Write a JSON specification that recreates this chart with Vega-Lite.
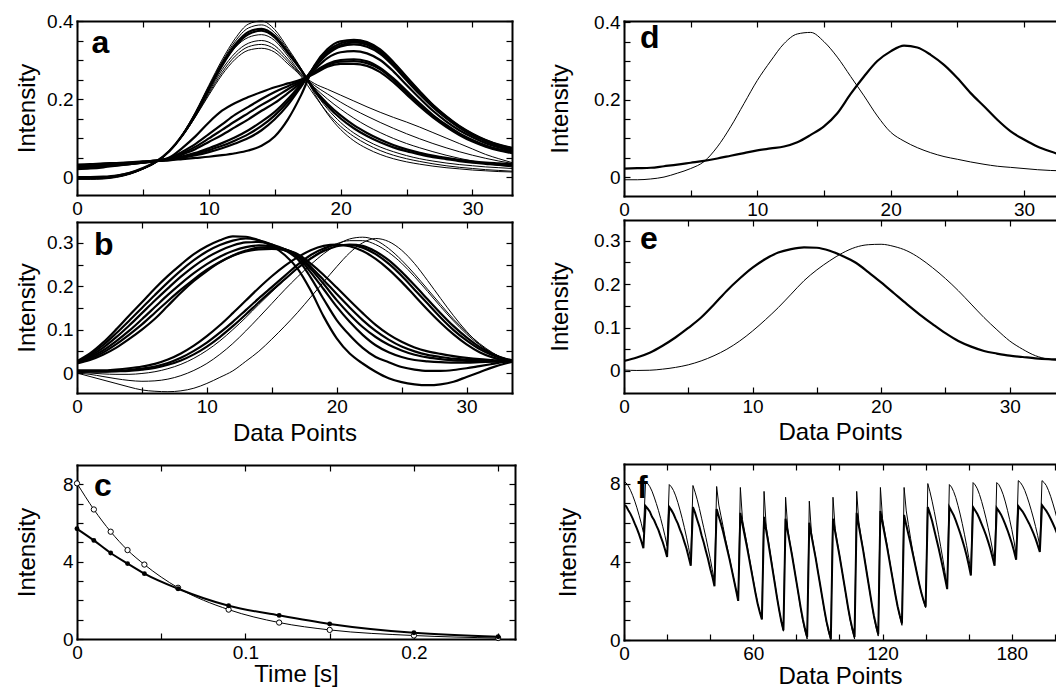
{
"$schema": "https://vega.github.io/schema/vega-lite/v6.json",
"autosize": {"type": "pad"},
"padding": {"left": 14, "top": 12, "right": 0, "bottom": 0},
"background": "white",
"config": {
  "view": {"stroke": null},
  "font": "Liberation Sans",
  "axis": {"domain": true, "domainColor": "black", "domainWidth": 2, "domainCap": "square", "grid": false, "ticks": true, "tickColor": "black", "tickSize": -6, "tickWidth": 1.2, "labelFont": "Liberation Sans", "labelFontSize": 19, "labelColor": "black", "labelPadding": 10, "labelFlush": false, "labelOverlap": false, "labelBound": false, "titleFont": "Liberation Sans", "titleFontSize": 24, "titleFontWeight": "normal", "titleColor": "black", "minExtent": 0, "maxExtent": 200},
  "text": {"font": "Liberation Sans", "fontSize": 32, "fontWeight": "bold", "color": "black", "align": "left", "baseline": "alphabetic"},
  "line": {"color": "black"}
},
"datasets": {
"a": [
{"x":0,"c1":-0.006,"c2":-0.004,"c3":-0.002,"c4":0,"c5":-0.005,"c6":-0.003,"c7":-0.004,"c8":-0.001,"g1":0.032,"g2":0.03,"g3":0.026,"g4":0.024,"g5":0.022,"g6":0.02,"g7":0.025,"g8":0.028},
{"x":1,"c1":-0.006,"c2":-0.004,"c3":-0.002,"c4":0,"c5":-0.005,"c6":-0.003,"c7":-0.004,"c8":-0.001,"g1":0.033,"g2":0.031,"g3":0.028,"g4":0.026,"g5":0.024,"g6":0.022,"g7":0.027,"g8":0.03},
{"x":2,"c1":-0.005,"c2":-0.003,"c3":-0.001,"c4":0.001,"c5":-0.004,"c6":-0.002,"c7":-0.003,"c8":0,"g1":0.035,"g2":0.033,"g3":0.03,"g4":0.028,"g5":0.027,"g6":0.025,"g7":0.029,"g8":0.032},
{"x":3,"c1":-0.001,"c2":0.001,"c3":0.003,"c4":0.004,"c5":0,"c6":0.002,"c7":0.001,"c8":0.003,"g1":0.036,"g2":0.035,"g3":0.032,"g4":0.031,"g5":0.03,"g6":0.029,"g7":0.032,"g8":0.034},
{"x":4,"c1":0.007,"c2":0.008,"c3":0.01,"c4":0.011,"c5":0.008,"c6":0.009,"c7":0.008,"c8":0.01,"g1":0.038,"g2":0.037,"g3":0.035,"g4":0.034,"g5":0.033,"g6":0.033,"g7":0.035,"g8":0.036},
{"x":5,"c1":0.02,"c2":0.021,"c3":0.022,"c4":0.023,"c5":0.021,"c6":0.021,"c7":0.021,"c8":0.022,"g1":0.04,"g2":0.039,"g3":0.038,"g4":0.037,"g5":0.037,"g6":0.037,"g7":0.038,"g8":0.039},
{"x":6,"c1":0.037,"c2":0.038,"c3":0.039,"c4":0.04,"c5":0.038,"c6":0.038,"c7":0.038,"c8":0.039,"g1":0.042,"g2":0.042,"g3":0.041,"g4":0.041,"g5":0.041,"g6":0.041,"g7":0.041,"g8":0.042},
{"x":7,"c1":0.065,"c2":0.066,"c3":0.066,"c4":0.067,"c5":0.066,"c6":0.066,"c7":0.065,"c8":0.066,"g1":0.05,"g2":0.048,"g3":0.046,"g4":0.045,"g5":0.044,"g6":0.043,"g7":0.045,"g8":0.047},
{"x":8,"c1":0.11,"c2":0.11,"c3":0.108,"c4":0.107,"c5":0.108,"c6":0.106,"c7":0.105,"c8":0.105,"g1":0.075,"g2":0.065,"g3":0.058,"g4":0.053,"g5":0.05,"g6":0.046,"g7":0.051,"g8":0.061},
{"x":9,"c1":0.168,"c2":0.166,"c3":0.163,"c4":0.16,"c5":0.162,"c6":0.158,"c7":0.156,"c8":0.155,"g1":0.105,"g2":0.085,"g3":0.072,"g4":0.062,"g5":0.056,"g6":0.049,"g7":0.059,"g8":0.078},
{"x":10,"c1":0.235,"c2":0.232,"c3":0.228,"c4":0.224,"c5":0.226,"c6":0.218,"c7":0.214,"c8":0.21,"g1":0.14,"g2":0.11,"g3":0.09,"g4":0.074,"g5":0.064,"g6":0.052,"g7":0.069,"g8":0.099},
{"x":11,"c1":0.3,"c2":0.295,"c3":0.29,"c4":0.285,"c5":0.285,"c6":0.275,"c7":0.268,"c8":0.262,"g1":0.17,"g2":0.135,"g3":0.108,"g4":0.087,"g5":0.074,"g6":0.056,"g7":0.08,"g8":0.121},
{"x":12,"c1":0.355,"c2":0.348,"c3":0.34,"c4":0.335,"c5":0.332,"c6":0.318,"c7":0.31,"c8":0.302,"g1":0.19,"g2":0.16,"g3":0.128,"g4":0.102,"g5":0.086,"g6":0.061,"g7":0.094,"g8":0.143},
{"x":13,"c1":0.392,"c2":0.382,"c3":0.372,"c4":0.366,"c5":0.358,"c6":0.343,"c7":0.334,"c8":0.325,"g1":0.205,"g2":0.18,"g3":0.148,"g4":0.12,"g5":0.1,"g6":0.068,"g7":0.11,"g8":0.164},
{"x":14,"c1":0.4,"c2":0.39,"c3":0.38,"c4":0.375,"c5":0.365,"c6":0.35,"c7":0.34,"c8":0.33,"g1":0.218,"g2":0.2,"g3":0.17,"g4":0.142,"g5":0.12,"g6":0.08,"g7":0.131,"g8":0.185},
{"x":15,"c1":0.378,"c2":0.37,"c3":0.362,"c4":0.358,"c5":0.35,"c6":0.337,"c7":0.328,"c8":0.32,"g1":0.23,"g2":0.218,"g3":0.19,"g4":0.167,"g5":0.148,"g6":0.104,"g7":0.158,"g8":0.204},
{"x":16,"c1":0.33,"c2":0.326,"c3":0.32,"c4":0.318,"c5":0.31,"c6":0.302,"c7":0.296,"c8":0.29,"g1":0.24,"g2":0.233,"g3":0.215,"g4":0.2,"g5":0.185,"g6":0.148,"g7":0.193,"g8":0.225},
{"x":17,"c1":0.278,"c2":0.277,"c3":0.275,"c4":0.274,"c5":0.265,"c6":0.263,"c7":0.26,"c8":0.258,"g1":0.25,"g2":0.248,"g3":0.242,"g4":0.238,"g5":0.232,"g6":0.21,"g7":0.235,"g8":0.245},
{"x":18,"c1":0.215,"c2":0.22,"c3":0.225,"c4":0.222,"c5":0.24,"c6":0.235,"c7":0.23,"c8":0.21,"g1":0.265,"g2":0.27,"g3":0.275,"g4":0.28,"g5":0.283,"g6":0.285,"g7":0.282,"g8":0.268},
{"x":19,"c1":0.162,"c2":0.175,"c3":0.188,"c4":0.182,"c5":0.225,"c6":0.213,"c7":0.2,"c8":0.165,"g1":0.283,"g2":0.29,"g3":0.305,"g4":0.315,"g5":0.322,"g6":0.328,"g7":0.318,"g8":0.287},
{"x":20,"c1":0.122,"c2":0.14,"c3":0.158,"c4":0.15,"c5":0.21,"c6":0.192,"c7":0.174,"c8":0.13,"g1":0.29,"g2":0.3,"g3":0.32,"g4":0.335,"g5":0.343,"g6":0.348,"g7":0.338,"g8":0.296},
{"x":21,"c1":0.093,"c2":0.113,"c3":0.133,"c4":0.125,"c5":0.195,"c6":0.173,"c7":0.151,"c8":0.104,"g1":0.29,"g2":0.302,"g3":0.323,"g4":0.34,"g5":0.349,"g6":0.352,"g7":0.345,"g8":0.297},
{"x":22,"c1":0.073,"c2":0.093,"c3":0.113,"c4":0.105,"c5":0.18,"c6":0.156,"c7":0.131,"c8":0.084,"g1":0.285,"g2":0.297,"g3":0.317,"g4":0.334,"g5":0.343,"g6":0.346,"g7":0.339,"g8":0.292},
{"x":23,"c1":0.058,"c2":0.077,"c3":0.096,"c4":0.089,"c5":0.166,"c6":0.14,"c7":0.114,"c8":0.068,"g1":0.269,"g2":0.28,"g3":0.3,"g4":0.316,"g5":0.324,"g6":0.327,"g7":0.32,"g8":0.276},
{"x":24,"c1":0.047,"c2":0.065,"c3":0.082,"c4":0.076,"c5":0.153,"c6":0.125,"c7":0.099,"c8":0.056,"g1":0.243,"g2":0.253,"g3":0.271,"g4":0.285,"g5":0.293,"g6":0.295,"g7":0.289,"g8":0.249},
{"x":25,"c1":0.039,"c2":0.055,"c3":0.071,"c4":0.066,"c5":0.141,"c6":0.111,"c7":0.086,"c8":0.047,"g1":0.212,"g2":0.221,"g3":0.236,"g4":0.248,"g5":0.255,"g6":0.257,"g7":0.252,"g8":0.217},
{"x":26,"c1":0.033,"c2":0.047,"c3":0.062,"c4":0.058,"c5":0.128,"c6":0.098,"c7":0.075,"c8":0.04,"g1":0.181,"g2":0.189,"g3":0.202,"g4":0.212,"g5":0.218,"g6":0.22,"g7":0.215,"g8":0.186},
{"x":27,"c1":0.028,"c2":0.041,"c3":0.055,"c4":0.051,"c5":0.114,"c6":0.086,"c7":0.065,"c8":0.034,"g1":0.153,"g2":0.159,"g3":0.17,"g4":0.179,"g5":0.184,"g6":0.185,"g7":0.182,"g8":0.157},
{"x":28,"c1":0.024,"c2":0.036,"c3":0.049,"c4":0.046,"c5":0.1,"c6":0.075,"c7":0.056,"c8":0.029,"g1":0.129,"g2":0.134,"g3":0.143,"g4":0.151,"g5":0.155,"g6":0.156,"g7":0.153,"g8":0.132},
{"x":29,"c1":0.021,"c2":0.032,"c3":0.044,"c4":0.041,"c5":0.086,"c6":0.065,"c7":0.048,"c8":0.025,"g1":0.108,"g2":0.112,"g3":0.12,"g4":0.127,"g5":0.13,"g6":0.131,"g7":0.128,"g8":0.111},
{"x":30,"c1":0.018,"c2":0.029,"c3":0.04,"c4":0.037,"c5":0.072,"c6":0.056,"c7":0.041,"c8":0.022,"g1":0.091,"g2":0.095,"g3":0.102,"g4":0.107,"g5":0.11,"g6":0.111,"g7":0.109,"g8":0.094},
{"x":31,"c1":0.016,"c2":0.026,"c3":0.037,"c4":0.034,"c5":0.058,"c6":0.048,"c7":0.035,"c8":0.019,"g1":0.078,"g2":0.081,"g3":0.087,"g4":0.092,"g5":0.094,"g6":0.095,"g7":0.093,"g8":0.08},
{"x":32,"c1":0.014,"c2":0.024,"c3":0.035,"c4":0.031,"c5":0.047,"c6":0.041,"c7":0.03,"c8":0.017,"g1":0.068,"g2":0.071,"g3":0.076,"g4":0.08,"g5":0.082,"g6":0.083,"g7":0.081,"g8":0.07},
{"x":33,"c1":0.013,"c2":0.022,"c3":0.033,"c4":0.029,"c5":0.037,"c6":0.035,"c7":0.026,"c8":0.015,"g1":0.061,"g2":0.064,"g3":0.068,"g4":0.072,"g5":0.074,"g6":0.075,"g7":0.073,"g8":0.063}
],
"b": [
{"x":0,"p1":0.027,"p2":0.026,"p3":0.025,"p4":0.024,"p5":0.023,"p6":0.022,"q1":0.005,"q2":0.004,"q3":0.006,"q4":0.002,"q5":0,"q6":0},
{"x":1,"p1":0.045,"p2":0.042,"p3":0.039,"p4":0.036,"p5":0.033,"p6":0.03,"q1":0.004,"q2":0.003,"q3":0.006,"q4":0,"q5":-0.003,"q6":-0.008},
{"x":2,"p1":0.07,"p2":0.064,"p3":0.058,"p4":0.052,"p5":0.047,"p6":0.042,"q1":0.004,"q2":0.003,"q3":0.006,"q4":-0.002,"q5":-0.008,"q6":-0.016},
{"x":3,"p1":0.1,"p2":0.091,"p3":0.082,"p4":0.073,"p5":0.066,"p6":0.058,"q1":0.005,"q2":0.004,"q3":0.008,"q4":-0.003,"q5":-0.013,"q6":-0.024},
{"x":4,"p1":0.132,"p2":0.12,"p3":0.109,"p4":0.097,"p5":0.088,"p6":0.078,"q1":0.007,"q2":0.005,"q3":0.011,"q4":-0.003,"q5":-0.017,"q6":-0.032},
{"x":5,"p1":0.163,"p2":0.15,"p3":0.138,"p4":0.124,"p5":0.112,"p6":0.1,"q1":0.01,"q2":0.008,"q3":0.015,"q4":-0.001,"q5":-0.019,"q6":-0.039},
{"x":6,"p1":0.195,"p2":0.18,"p3":0.167,"p4":0.152,"p5":0.139,"p6":0.125,"q1":0.015,"q2":0.012,"q3":0.021,"q4":0.003,"q5":-0.018,"q6":-0.042},
{"x":7,"p1":0.224,"p2":0.209,"p3":0.195,"p4":0.18,"p5":0.166,"p6":0.155,"q1":0.023,"q2":0.019,"q3":0.031,"q4":0.01,"q5":-0.014,"q6":-0.043},
{"x":8,"p1":0.25,"p2":0.236,"p3":0.222,"p4":0.206,"p5":0.192,"p6":0.185,"q1":0.035,"q2":0.029,"q3":0.045,"q4":0.02,"q5":-0.006,"q6":-0.041},
{"x":9,"p1":0.274,"p2":0.26,"p3":0.246,"p4":0.23,"p5":0.216,"p6":0.212,"q1":0.051,"q2":0.043,"q3":0.063,"q4":0.034,"q5":0.006,"q6":-0.035},
{"x":10,"p1":0.292,"p2":0.28,"p3":0.266,"p4":0.251,"p5":0.238,"p6":0.235,"q1":0.07,"q2":0.061,"q3":0.085,"q4":0.052,"q5":0.022,"q6":-0.024},
{"x":11,"p1":0.306,"p2":0.295,"p3":0.282,"p4":0.268,"p5":0.256,"p6":0.255,"q1":0.093,"q2":0.083,"q3":0.11,"q4":0.074,"q5":0.043,"q6":-0.01},
{"x":12,"p1":0.315,"p2":0.305,"p3":0.294,"p4":0.281,"p5":0.271,"p6":0.27,"q1":0.118,"q2":0.108,"q3":0.138,"q4":0.1,"q5":0.068,"q6":0.005},
{"x":13,"p1":0.314,"p2":0.31,"p3":0.301,"p4":0.29,"p5":0.282,"p6":0.28,"q1":0.145,"q2":0.135,"q3":0.167,"q4":0.128,"q5":0.097,"q6":0.027},
{"x":14,"p1":0.306,"p2":0.306,"p3":0.302,"p4":0.294,"p5":0.289,"p6":0.285,"q1":0.172,"q2":0.163,"q3":0.196,"q4":0.158,"q5":0.128,"q6":0.05},
{"x":15,"p1":0.293,"p2":0.296,"p3":0.296,"p4":0.292,"p5":0.29,"p6":0.286,"q1":0.198,"q2":0.19,"q3":0.223,"q4":0.187,"q5":0.16,"q6":0.078},
{"x":16,"p1":0.272,"p2":0.283,"p3":0.285,"p4":0.285,"p5":0.285,"p6":0.283,"q1":0.224,"q2":0.216,"q3":0.247,"q4":0.215,"q5":0.192,"q6":0.108},
{"x":17,"p1":0.24,"p2":0.262,"p3":0.268,"p4":0.27,"p5":0.272,"p6":0.274,"q1":0.25,"q2":0.242,"q3":0.267,"q4":0.241,"q5":0.222,"q6":0.14},
{"x":18,"p1":0.19,"p2":0.22,"p3":0.232,"p4":0.24,"p5":0.245,"p6":0.252,"q1":0.272,"q2":0.264,"q3":0.283,"q4":0.265,"q5":0.25,"q6":0.175},
{"x":19,"p1":0.13,"p2":0.17,"p3":0.193,"p4":0.205,"p5":0.214,"p6":0.226,"q1":0.287,"q2":0.281,"q3":0.293,"q4":0.284,"q5":0.275,"q6":0.21},
{"x":20,"p1":0.08,"p2":0.122,"p3":0.153,"p4":0.168,"p5":0.182,"p6":0.197,"q1":0.295,"q2":0.292,"q3":0.296,"q4":0.298,"q5":0.295,"q6":0.245},
{"x":21,"p1":0.045,"p2":0.087,"p3":0.118,"p4":0.135,"p5":0.151,"p6":0.167,"q1":0.295,"q2":0.296,"q3":0.292,"q4":0.305,"q5":0.309,"q6":0.277},
{"x":22,"p1":0.022,"p2":0.058,"p3":0.088,"p4":0.106,"p5":0.122,"p6":0.138,"q1":0.289,"q2":0.293,"q3":0.281,"q4":0.305,"q5":0.313,"q6":0.3},
{"x":23,"p1":0.003,"p2":0.037,"p3":0.064,"p4":0.083,"p5":0.097,"p6":0.111,"q1":0.274,"q2":0.28,"q3":0.263,"q4":0.296,"q5":0.306,"q6":0.31},
{"x":24,"p1":-0.012,"p2":0.025,"p3":0.048,"p4":0.065,"p5":0.077,"p6":0.089,"q1":0.252,"q2":0.26,"q3":0.239,"q4":0.278,"q5":0.287,"q6":0.303},
{"x":25,"p1":-0.021,"p2":0.014,"p3":0.037,"p4":0.052,"p5":0.061,"p6":0.072,"q1":0.224,"q2":0.233,"q3":0.21,"q4":0.253,"q5":0.26,"q6":0.283},
{"x":26,"p1":-0.026,"p2":0.008,"p3":0.03,"p4":0.042,"p5":0.05,"p6":0.059,"q1":0.192,"q2":0.202,"q3":0.178,"q4":0.222,"q5":0.228,"q6":0.252},
{"x":27,"p1":-0.028,"p2":0.005,"p3":0.027,"p4":0.036,"p5":0.042,"p6":0.05,"q1":0.16,"q2":0.17,"q3":0.146,"q4":0.188,"q5":0.193,"q6":0.213},
{"x":28,"p1":-0.026,"p2":0.005,"p3":0.025,"p4":0.032,"p5":0.037,"p6":0.044,"q1":0.128,"q2":0.138,"q3":0.116,"q4":0.153,"q5":0.158,"q6":0.172},
{"x":29,"p1":-0.02,"p2":0.007,"p3":0.024,"p4":0.029,"p5":0.033,"p6":0.039,"q1":0.099,"q2":0.108,"q3":0.089,"q4":0.12,"q5":0.124,"q6":0.132},
{"x":30,"p1":-0.009,"p2":0.011,"p3":0.024,"p4":0.028,"p5":0.031,"p6":0.035,"q1":0.075,"q2":0.082,"q3":0.066,"q4":0.09,"q5":0.094,"q6":0.096},
{"x":31,"p1":0.002,"p2":0.016,"p3":0.025,"p4":0.027,"p5":0.029,"p6":0.032,"q1":0.055,"q2":0.06,"q3":0.048,"q4":0.065,"q5":0.068,"q6":0.066},
{"x":32,"p1":0.013,"p2":0.021,"p3":0.026,"p4":0.027,"p5":0.028,"p6":0.03,"q1":0.041,"q2":0.044,"q3":0.036,"q4":0.046,"q5":0.047,"q6":0.044},
{"x":33,"p1":0.022,"p2":0.026,"p3":0.027,"p4":0.027,"p5":0.028,"p6":0.028,"q1":0.032,"q2":0.033,"q3":0.029,"q4":0.033,"q5":0.032,"q6":0.03},
{"x":34,"p1":0.029,"p2":0.029,"p3":0.028,"p4":0.028,"p5":0.028,"p6":0.028,"q1":0.027,"q2":0.027,"q3":0.026,"q4":0.027,"q5":0.027,"q6":0.026}
],
"c": [
{"t":0,"o":8.05,"f":5.7},
{"t":0.01,"o":6.7,"f":5.1},
{"t":0.02,"o":5.55,"f":4.45},
{"t":0.03,"o":4.6,"f":3.9},
{"t":0.04,"o":3.85,"f":3.38},
{"t":0.06,"o":2.65,"f":2.6},
{"t":0.09,"o":1.52,"f":1.72},
{"t":0.12,"o":0.85,"f":1.22},
{"t":0.15,"o":0.47,"f":0.78},
{"t":0.2,"o":0.18,"f":0.32},
{"t":0.25,"o":0.05,"f":0.12}
],
"d": [
{"x":0,"thin":-0.007,"thick":0.022},{"x":1,"thin":-0.007,"thick":0.023},{"x":2,"thin":-0.005,"thick":0.024},{"x":3,"thin":0,"thick":0.028},
{"x":4,"thin":0.01,"thick":0.032},{"x":5,"thin":0.022,"thick":0.037},{"x":6,"thin":0.04,"thick":0.042},{"x":7,"thin":0.078,"thick":0.048},
{"x":8,"thin":0.13,"thick":0.055},{"x":9,"thin":0.19,"thick":0.062},{"x":10,"thin":0.25,"thick":0.069},{"x":11,"thin":0.3,"thick":0.074},
{"x":12,"thin":0.345,"thick":0.079},{"x":13,"thin":0.37,"thick":0.09},{"x":14,"thin":0.374,"thick":0.109},{"x":15,"thin":0.35,"thick":0.131},
{"x":16,"thin":0.31,"thick":0.165},{"x":17,"thin":0.26,"thick":0.215},{"x":18,"thin":0.21,"thick":0.26},{"x":19,"thin":0.158,"thick":0.3},
{"x":20,"thin":0.116,"thick":0.325},{"x":21,"thin":0.093,"thick":0.34},{"x":22,"thin":0.076,"thick":0.335},{"x":23,"thin":0.063,"thick":0.316},
{"x":24,"thin":0.053,"thick":0.29},{"x":25,"thin":0.046,"thick":0.256},{"x":26,"thin":0.039,"thick":0.217},{"x":27,"thin":0.033,"thick":0.183},
{"x":28,"thin":0.028,"thick":0.148},{"x":29,"thin":0.025,"thick":0.118},{"x":30,"thin":0.022,"thick":0.097},{"x":31,"thin":0.019,"thick":0.079},
{"x":32,"thin":0.017,"thick":0.066},{"x":33,"thin":0.016,"thick":0.055}
],
"e": [
{"x":0,"thick":0.023,"thin":0.002},{"x":1,"thick":0.031,"thin":0.001},{"x":2,"thick":0.042,"thin":0.0015},{"x":3,"thick":0.058,"thin":0.004},
{"x":4,"thick":0.077,"thin":0.008},{"x":5,"thick":0.099,"thin":0.014},{"x":6,"thick":0.123,"thin":0.023},{"x":7,"thick":0.153,"thin":0.035},
{"x":8,"thick":0.185,"thin":0.05},{"x":9,"thick":0.213,"thin":0.069},{"x":10,"thick":0.238,"thin":0.092},{"x":11,"thick":0.258,"thin":0.118},
{"x":12,"thick":0.273,"thin":0.146},{"x":13,"thick":0.281,"thin":0.177},{"x":14,"thick":0.285,"thin":0.208},{"x":15,"thick":0.284,"thin":0.233},
{"x":16,"thick":0.277,"thin":0.254},{"x":17,"thick":0.265,"thin":0.272},{"x":18,"thick":0.25,"thin":0.285},{"x":19,"thick":0.228,"thin":0.291},
{"x":20,"thick":0.204,"thin":0.292},{"x":21,"thick":0.179,"thin":0.287},{"x":22,"thick":0.154,"thin":0.277},{"x":23,"thick":0.13,"thin":0.26},
{"x":24,"thick":0.108,"thin":0.238},{"x":25,"thick":0.087,"thin":0.213},{"x":26,"thick":0.069,"thin":0.185},{"x":27,"thick":0.056,"thin":0.154},
{"x":28,"thick":0.046,"thin":0.123},{"x":29,"thick":0.04,"thin":0.095},{"x":30,"thick":0.035,"thin":0.069},{"x":31,"thick":0.032,"thin":0.05},
{"x":32,"thick":0.029,"thin":0.035},{"x":33,"thick":0.027,"thin":0.027},{"x":34,"thick":0.026,"thin":0.024}
],
"f": [
{"x":0,"t":8.1,"k":6.9},{"x":1,"t":8.03,"k":6.84},{"x":2,"t":7.88,"k":6.64},{"x":3,"t":7.66,"k":6.45},{"x":4,"t":7.4,"k":6.22},{"x":5,"t":7.1,"k":5.95},{"x":6,"t":6.76,"k":5.7},{"x":7,"t":6.38,"k":5.4},{"x":8,"t":5.97,"k":5.06},{"x":9,"t":5.5,"k":4.7},
{"x":10,"t":8.1,"k":6.85},{"x":11,"t":8.0,"k":6.72},{"x":12,"t":7.84,"k":6.56},{"x":13,"t":7.61,"k":6.3},{"x":14,"t":7.31,"k":6.12},{"x":15,"t":6.98,"k":5.86},{"x":16,"t":6.62,"k":5.62},{"x":17,"t":6.22,"k":5.3},{"x":18,"t":5.79,"k":5.0},{"x":19,"t":5.33,"k":4.64},{"x":20,"t":4.8,"k":4.25},
{"x":21,"t":7.95,"k":6.8},{"x":22,"t":7.83,"k":6.64},{"x":23,"t":7.64,"k":6.44},{"x":24,"t":7.37,"k":6.18},{"x":25,"t":7.03,"k":5.95},{"x":26,"t":6.64,"k":5.64},{"x":27,"t":6.22,"k":5.37},{"x":28,"t":5.76,"k":5.02},{"x":29,"t":5.26,"k":4.68},{"x":30,"t":4.72,"k":4.25},{"x":31,"t":4.1,"k":3.8},
{"x":32,"t":7.9,"k":6.8},{"x":33,"t":7.56,"k":6.5},{"x":34,"t":7.17,"k":6.14},{"x":35,"t":6.72,"k":5.8},{"x":36,"t":6.23,"k":5.36},{"x":37,"t":5.74,"k":4.99},{"x":38,"t":5.25,"k":4.55},{"x":39,"t":4.72,"k":4.14},{"x":40,"t":4.18,"k":3.66},{"x":41,"t":3.59,"k":3.24},{"x":42,"t":3.0,"k":2.75},
{"x":43,"t":7.85,"k":6.7},{"x":44,"t":6.9,"k":6.32},{"x":45,"t":6.35,"k":5.95},{"x":46,"t":5.8,"k":5.53},{"x":47,"t":5.2,"k":5.06},{"x":48,"t":4.7,"k":4.59},{"x":49,"t":4.18,"k":4.12},{"x":50,"t":3.64,"k":3.6},{"x":51,"t":3.1,"k":3.08},{"x":52,"t":2.56,"k":2.56},{"x":53,"t":2.05,"k":2.0},
{"x":54,"t":7.8,"k":6.5},{"x":55,"t":6.15,"k":5.9},{"x":56,"t":5.55,"k":5.36},{"x":57,"t":4.95,"k":4.81},{"x":58,"t":4.32,"k":4.21},{"x":59,"t":3.7,"k":3.61},{"x":60,"t":3.08,"k":3.01},{"x":61,"t":2.46,"k":2.41},{"x":62,"t":1.9,"k":1.87},{"x":63,"t":1.45,"k":1.43},{"x":64,"t":1.1,"k":1.05},
{"x":65,"t":7.6,"k":6.3},{"x":66,"t":5.8,"k":5.6},{"x":67,"t":5.1,"k":4.97},{"x":68,"t":4.37,"k":4.27},{"x":69,"t":3.65,"k":3.57},{"x":70,"t":2.93,"k":2.88},{"x":71,"t":2.2,"k":2.18},{"x":72,"t":1.54,"k":1.54},{"x":73,"t":0.93,"k":0.96},{"x":74,"t":0.45,"k":0.5},
{"x":75,"t":7.3,"k":6.2},{"x":76,"t":5.7,"k":5.53},{"x":77,"t":5.0,"k":4.93},{"x":78,"t":4.37,"k":4.32},{"x":79,"t":3.68,"k":3.66},{"x":80,"t":3.0,"k":3.0},{"x":81,"t":2.3,"k":2.33},{"x":82,"t":1.6,"k":1.66},{"x":83,"t":0.98,"k":1.06},{"x":84,"t":0.45,"k":0.57},{"x":85,"t":0.05,"k":0.15},
{"x":86,"t":7.1,"k":6.0},{"x":87,"t":5.5,"k":5.34},{"x":88,"t":4.82,"k":4.75},{"x":89,"t":4.2,"k":4.16},{"x":90,"t":3.52,"k":3.5},{"x":91,"t":2.85,"k":2.85},{"x":92,"t":2.17,"k":2.19},{"x":93,"t":1.5,"k":1.54},{"x":94,"t":0.88,"k":0.94},{"x":95,"t":0.38,"k":0.47},{"x":96,"t":0.0,"k":0.05},
{"x":97,"t":7.3,"k":6.2},{"x":98,"t":5.7,"k":5.53},{"x":99,"t":5.0,"k":4.93},{"x":100,"t":4.36,"k":4.32},{"x":101,"t":3.68,"k":3.66},{"x":102,"t":3.0,"k":3.0},{"x":103,"t":2.3,"k":2.33},{"x":104,"t":1.62,"k":1.66},{"x":105,"t":1.0,"k":1.06},{"x":106,"t":0.48,"k":0.57},{"x":107,"t":0.05,"k":0.15},
{"x":108,"t":7.6,"k":6.5},{"x":109,"t":6.0,"k":5.82},{"x":110,"t":5.3,"k":5.2},{"x":111,"t":4.64,"k":4.58},{"x":112,"t":3.93,"k":3.9},{"x":113,"t":3.22,"k":3.21},{"x":114,"t":2.52,"k":2.53},{"x":115,"t":1.82,"k":1.85},{"x":116,"t":1.18,"k":1.23},{"x":117,"t":0.64,"k":0.73},{"x":118,"t":0.2,"k":0.3},
{"x":119,"t":7.8,"k":6.6},{"x":120,"t":6.2,"k":5.97},{"x":121,"t":5.55,"k":5.39},{"x":122,"t":4.92,"k":4.82},{"x":123,"t":4.25,"k":4.19},{"x":124,"t":3.6,"k":3.55},{"x":125,"t":2.95,"k":2.92},{"x":126,"t":2.3,"k":2.29},{"x":127,"t":1.7,"k":1.71},{"x":128,"t":1.2,"k":1.25},{"x":129,"t":0.75,"k":0.85},
{"x":130,"t":7.8,"k":6.4},{"x":131,"t":6.6,"k":5.88},{"x":132,"t":5.9,"k":5.41},{"x":133,"t":5.2,"k":4.94},{"x":134,"t":4.55,"k":4.43},{"x":135,"t":3.95,"k":3.91},{"x":136,"t":3.4,"k":3.39},{"x":137,"t":2.88,"k":2.88},{"x":138,"t":2.4,"k":2.41},{"x":139,"t":2.0,"k":2.03},{"x":140,"t":1.65,"k":1.7},
{"x":141,"t":8.0,"k":6.8},{"x":142,"t":7.58,"k":6.46},{"x":143,"t":7.1,"k":6.09},{"x":144,"t":6.57,"k":5.62},{"x":145,"t":5.99,"k":5.16},{"x":146,"t":5.4,"k":4.7},{"x":147,"t":4.77,"k":4.2},{"x":148,"t":4.13,"k":3.69},{"x":149,"t":3.44,"k":3.15},{"x":150,"t":2.7,"k":2.6},
{"x":151,"t":7.95,"k":6.8},{"x":152,"t":7.82,"k":6.59},{"x":153,"t":7.59,"k":6.38},{"x":154,"t":7.28,"k":6.1},{"x":155,"t":6.88,"k":5.79},{"x":156,"t":6.44,"k":5.47},{"x":157,"t":5.95,"k":5.12},{"x":158,"t":5.41,"k":4.74},{"x":159,"t":4.84,"k":4.32},{"x":160,"t":4.21,"k":3.83},{"x":161,"t":3.5,"k":3.3},
{"x":162,"t":8.05,"k":6.8},{"x":163,"t":7.93,"k":6.62},{"x":164,"t":7.73,"k":6.44},{"x":165,"t":7.44,"k":6.2},{"x":166,"t":7.08,"k":5.93},{"x":167,"t":6.67,"k":5.66},{"x":168,"t":6.23,"k":5.36},{"x":169,"t":5.74,"k":5.03},{"x":170,"t":5.22,"k":4.67},{"x":171,"t":4.65,"k":4.25},{"x":172,"t":4.0,"k":3.8},
{"x":173,"t":8.05,"k":6.75},{"x":174,"t":7.94,"k":6.59},{"x":175,"t":7.72,"k":6.41},{"x":176,"t":7.43,"k":6.17},{"x":177,"t":7.06,"k":5.9},{"x":178,"t":6.63,"k":5.61},{"x":179,"t":6.15,"k":5.29},{"x":180,"t":5.64,"k":4.95},{"x":181,"t":5.06,"k":4.55},{"x":182,"t":4.4,"k":4.1},
{"x":183,"t":8.15,"k":6.85},{"x":184,"t":8.05,"k":6.71},{"x":185,"t":7.88,"k":6.57},{"x":186,"t":7.65,"k":6.38},{"x":187,"t":7.35,"k":6.17},{"x":188,"t":7.01,"k":5.96},{"x":189,"t":6.64,"k":5.72},{"x":190,"t":6.24,"k":5.46},{"x":191,"t":5.81,"k":5.18},{"x":192,"t":5.34,"k":4.85},{"x":193,"t":4.8,"k":4.5},
{"x":194,"t":8.15,"k":6.9},{"x":195,"t":8.05,"k":6.75},{"x":196,"t":7.9,"k":6.6},{"x":197,"t":7.65,"k":6.42},{"x":198,"t":7.35,"k":6.2},{"x":199,"t":7.0,"k":5.97},{"x":200,"t":6.62,"k":5.72},{"x":201,"t":6.2,"k":5.45}
]
},
"hconcat": [
{"spacing": 0, "vconcat": [
 {"width": 435, "height": 174,
  "data": {"name": "a"},
  "layer": [
   {"transform": [{"fold": ["c1","c2","c5","c6","c7","c8"], "as": ["k","v"]}],
    "mark": {"type": "line", "strokeWidth": 1, "interpolate": "monotone", "color": "black"},
    "encoding": {
     "x": {"field": "x", "type": "quantitative", "scale": {"domain": [0,33], "nice": false, "zero": false},
           "axis": {"orient": "bottom", "values": [0,5,10,15,20,25,30], "labelExpr": "datum.value % 10 === 0 ? datum.label : ''", "title": null, "minExtent": 26}},
     "y": {"field": "v", "type": "quantitative", "scale": {"domain": [-0.046,0.4], "nice": false, "zero": false},
           "axis": {"orient": "left", "values": [0,0.05,0.1,0.15,0.2,0.25,0.3,0.35,0.4], "labelExpr": "abs(datum.value*5-round(datum.value*5))<0.001 ? format(datum.value,'~g') : ''", "title": "Intensity", "titleX": -38, "titleBaseline": "bottom"}},
     "detail": {"field": "k"}}},
   {"transform": [{"fold": ["c3","c4","g1","g2","g3","g4","g5","g6","g7","g8"], "as": ["k","v"]}],
    "mark": {"type": "line", "strokeWidth": 2.2, "interpolate": "monotone", "color": "black"},
    "encoding": {
     "x": {"field": "x", "type": "quantitative", "axis": {"orient": "top", "values": [0,5,10,15,20,25,30], "labels": false, "title": null}},
     "y": {"field": "v", "type": "quantitative", "axis": {"orient": "right", "values": [0,0.05,0.1,0.15,0.2,0.25,0.3,0.35,0.4], "labels": false, "title": null}},
     "detail": {"field": "k"}}},
   {"data": {"values": [{"px": 1.1, "py": 0.318, "label": "a"}]},
    "mark": {"type": "text"},
    "encoding": {"x": {"field": "px", "type": "quantitative", "axis": null}, "y": {"field": "py", "type": "quantitative", "axis": null}, "text": {"field": "label"}}}
  ],
  "resolve": {"axis": {"x": "independent", "y": "independent"}}
 },
 {"width": 435, "height": 171,
  "data": {"name": "b"},
  "layer": [
   {"transform": [{"fold": ["q4","q5","q6"], "as": ["k","v"]}],
    "mark": {"type": "line", "strokeWidth": 1, "interpolate": "monotone", "color": "black", "clip": true},
    "encoding": {
     "x": {"field": "x", "type": "quantitative", "scale": {"domain": [0,33.5], "nice": false, "zero": false},
           "axis": {"orient": "bottom", "values": [0,5,10,15,20,25,30], "labelExpr": "datum.value % 10 === 0 ? datum.label : ''", "title": "Data Points", "titlePadding": 5, "minExtent": 23}},
     "y": {"field": "v", "type": "quantitative", "scale": {"domain": [-0.046,0.348], "nice": false, "zero": false},
           "axis": {"orient": "left", "values": [0,0.05,0.1,0.15,0.2,0.25,0.3], "labelExpr": "abs(datum.value*10-round(datum.value*10))<0.001 ? format(datum.value,'~g') : ''", "title": "Intensity", "titleX": -38, "titleBaseline": "bottom"}},
     "detail": {"field": "k"}}},
   {"transform": [{"fold": ["p1","p2","p3","p4","p5","p6","q1","q2","q3"], "as": ["k","v"]}],
    "mark": {"type": "line", "strokeWidth": 2.2, "interpolate": "monotone", "color": "black", "clip": true},
    "encoding": {
     "x": {"field": "x", "type": "quantitative", "axis": {"orient": "top", "values": [0,5,10,15,20,25,30], "labels": false, "title": null}},
     "y": {"field": "v", "type": "quantitative", "axis": {"orient": "right", "values": [0,0.05,0.1,0.15,0.2,0.25,0.3], "labels": false, "title": null}},
     "detail": {"field": "k"}}},
   {"data": {"values": [{"px": 1.3, "py": 0.273, "label": "b"}]},
    "mark": {"type": "text"},
    "encoding": {"x": {"field": "px", "type": "quantitative", "axis": null}, "y": {"field": "py", "type": "quantitative", "axis": null}, "text": {"field": "label"}}}
  ],
  "resolve": {"axis": {"x": "independent", "y": "independent"}}
 },
 {"width": 438, "height": 174,
  "data": {"name": "c"},
  "layer": [
   {"mark": {"type": "line", "strokeWidth": 1, "interpolate": "monotone", "color": "black"},
    "encoding": {
     "x": {"field": "t", "type": "quantitative", "scale": {"domain": [0,0.26], "nice": false, "zero": false},
           "axis": {"orient": "bottom", "values": [0,0.05,0.1,0.15,0.2,0.25], "labelExpr": "abs(datum.value*10-round(datum.value*10))<0.001 ? format(datum.value,'~g') : ''", "title": "Time [s]", "titlePadding": 0, "minExtent": 23}},
     "y": {"field": "o", "type": "quantitative", "scale": {"domain": [0,9], "nice": false, "zero": false},
           "axis": {"orient": "left", "values": [0,1,2,3,4,5,6,7,8], "labelExpr": "datum.value % 4 === 0 ? datum.label : ''", "title": "Intensity", "titleX": -38, "titleBaseline": "bottom"}}}},
   {"mark": {"type": "line", "strokeWidth": 2, "interpolate": "monotone", "color": "black"},
    "encoding": {
     "x": {"field": "t", "type": "quantitative", "axis": {"orient": "top", "values": [0,0.05,0.1,0.15,0.2,0.25], "labels": false, "title": null, "minExtent": 20}},
     "y": {"field": "f", "type": "quantitative", "axis": {"orient": "right", "values": [0,1,2,3,4,5,6,7,8], "labels": false, "title": null}}}},
   {"mark": {"type": "point", "shape": "circle", "filled": true, "fill": "white", "stroke": "black", "strokeWidth": 1, "size": 28, "opacity": 1},
    "encoding": {
     "x": {"field": "t", "type": "quantitative", "axis": null},
     "y": {"field": "o", "type": "quantitative", "axis": null}}},
   {"mark": {"type": "point", "shape": "circle", "filled": true, "color": "black", "size": 24, "opacity": 1},
    "encoding": {
     "x": {"field": "t", "type": "quantitative", "axis": null},
     "y": {"field": "f", "type": "quantitative", "axis": null}}},
   {"data": {"values": [{"px": 0.0101, "py": 7.41, "label": "c"}]},
    "mark": {"type": "text"},
    "encoding": {"x": {"field": "px", "type": "quantitative", "axis": null}, "y": {"field": "py", "type": "quantitative", "axis": null}, "text": {"field": "label"}}}
  ],
  "resolve": {"axis": {"x": "independent", "y": "independent"}}
 }
]},
{"spacing": 0, "vconcat": [
 {"width": 432, "height": 175,
  "data": {"name": "d"},
  "layer": [
   {"mark": {"type": "line", "strokeWidth": 1, "interpolate": "monotone", "color": "black", "clip": true},
    "encoding": {
     "x": {"field": "x", "type": "quantitative", "scale": {"domain": [0,32.4], "nice": false, "zero": false},
           "axis": {"orient": "bottom", "values": [0,5,10,15,20,25,30], "labelExpr": "datum.value % 10 === 0 ? datum.label : ''", "title": null, "minExtent": 19}},
     "y": {"field": "thin", "type": "quantitative", "scale": {"domain": [-0.049,0.4035], "nice": false, "zero": false},
           "axis": {"orient": "left", "values": [0,0.05,0.1,0.15,0.2,0.25,0.3,0.35,0.4], "labelExpr": "abs(datum.value*5-round(datum.value*5))<0.001 ? format(datum.value,'~g') : ''", "title": "Intensity", "titleX": -52, "titleBaseline": "bottom"}}}},
   {"mark": {"type": "line", "strokeWidth": 2.2, "interpolate": "monotone", "color": "black", "clip": true},
    "encoding": {
     "x": {"field": "x", "type": "quantitative", "axis": {"orient": "top", "values": [0,5,10,15,20,25,30], "labels": false, "title": null}},
     "y": {"field": "thick", "type": "quantitative", "axis": null}}},
   {"data": {"values": [{"px": 1.2, "py": 0.334, "label": "d"}]},
    "mark": {"type": "text"},
    "encoding": {"x": {"field": "px", "type": "quantitative", "axis": null}, "y": {"field": "py", "type": "quantitative", "axis": null}, "text": {"field": "label"}}}
  ],
  "resolve": {"axis": {"x": "independent", "y": "independent"}}
 },
 {"width": 432, "height": 173,
  "data": {"name": "e"},
  "layer": [
   {"mark": {"type": "line", "strokeWidth": 1, "interpolate": "monotone", "color": "black", "clip": true},
    "encoding": {
     "x": {"field": "x", "type": "quantitative", "scale": {"domain": [0,33.6], "nice": false, "zero": false},
           "axis": {"orient": "bottom", "values": [0,5,10,15,20,25,30], "labelExpr": "datum.value % 10 === 0 ? datum.label : ''", "title": "Data Points", "titlePadding": 4, "minExtent": 23}},
     "y": {"field": "thin", "type": "quantitative", "scale": {"domain": [-0.051,0.348], "nice": false, "zero": false},
           "axis": {"orient": "left", "values": [0,0.05,0.1,0.15,0.2,0.25,0.3], "labelExpr": "abs(datum.value*10-round(datum.value*10))<0.001 ? format(datum.value,'~g') : ''", "title": "Intensity", "titleX": -52, "titleBaseline": "bottom"}}}},
   {"mark": {"type": "line", "strokeWidth": 2.2, "interpolate": "monotone", "color": "black", "clip": true},
    "encoding": {
     "x": {"field": "x", "type": "quantitative", "axis": {"orient": "top", "values": [0,5,10,15,20,25,30], "labels": false, "title": null}},
     "y": {"field": "thick", "type": "quantitative", "axis": null}}},
   {"data": {"values": [{"px": 1.24, "py": 0.281, "label": "e"}]},
    "mark": {"type": "text"},
    "encoding": {"x": {"field": "px", "type": "quantitative", "axis": null}, "y": {"field": "py", "type": "quantitative", "axis": null}, "text": {"field": "label"}}}
  ],
  "resolve": {"axis": {"x": "independent", "y": "independent"}}
 },
 {"width": 432, "height": 176,
  "data": {"name": "f"},
  "layer": [
   {"mark": {"type": "line", "strokeWidth": 1, "color": "black", "clip": true},
    "encoding": {
     "x": {"field": "x", "type": "quantitative", "scale": {"domain": [0,200.5], "nice": false, "zero": false},
           "axis": {"orient": "bottom", "values": [0,20,40,60,80,100,120,140,160,180,200], "labelExpr": "datum.value % 60 === 0 ? datum.label : ''", "title": "Data Points", "titlePadding": 1, "minExtent": 23}},
     "y": {"field": "t", "type": "quantitative", "scale": {"domain": [0,9], "nice": false, "zero": false},
           "axis": {"orient": "left", "values": [0,1,2,3,4,5,6,7,8], "labelExpr": "datum.value % 4 === 0 ? datum.label : ''", "title": "Intensity", "titleX": -44, "titleBaseline": "bottom"}}}},
   {"mark": {"type": "line", "strokeWidth": 2, "color": "black", "clip": true},
    "encoding": {
     "x": {"field": "x", "type": "quantitative", "axis": {"orient": "top", "values": [0,20,40,60,80,100,120,140,160,180,200], "labels": false, "title": null, "minExtent": 20}},
     "y": {"field": "k", "type": "quantitative", "axis": null}}},
   {"data": {"values": [{"px": 6.0, "py": 7.26, "label": "f"}]},
    "mark": {"type": "text"},
    "encoding": {"x": {"field": "px", "type": "quantitative", "axis": null}, "y": {"field": "py", "type": "quantitative", "axis": null}, "text": {"field": "label"}}}
  ],
  "resolve": {"axis": {"x": "independent", "y": "independent"}}
 }
]}
],
"spacing": 31
}
